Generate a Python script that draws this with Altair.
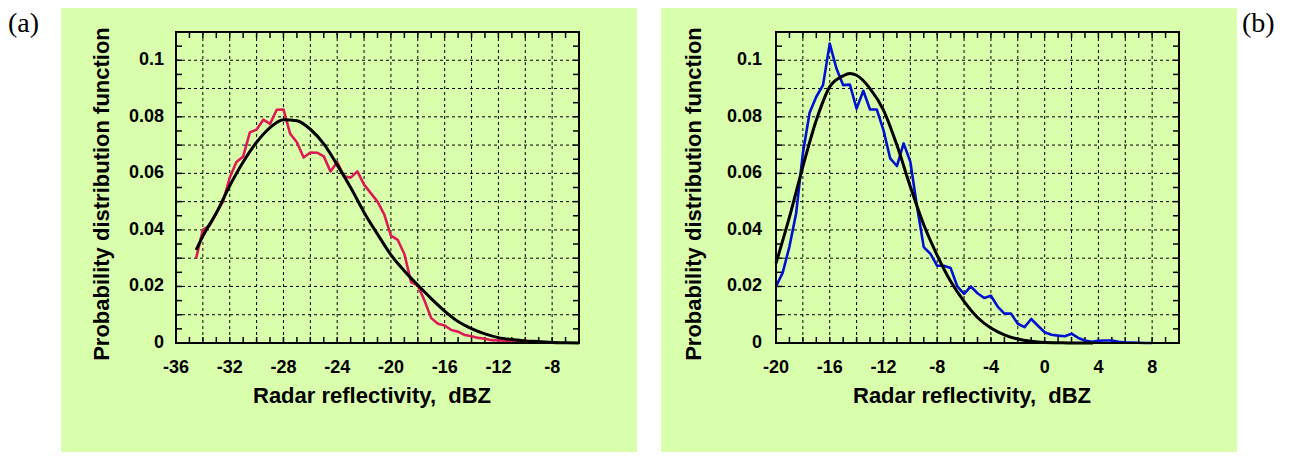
import altair as alt
import pandas as pd

# ---------------- data ----------------
# panel (a): observed PDF (red) and fitted curve (black)
a_x = [-34.5, -34.0, -33.5, -33.0, -32.5, -32.0, -31.5, -31.0, -30.5, -30.0,
       -29.5, -29.0, -28.5, -28.0, -27.5, -27.0, -26.5, -26.0, -25.5, -25.0,
       -24.5, -24.0, -23.5, -23.0, -22.5, -22.0, -21.5, -21.0, -20.5, -20.0,
       -19.5, -19.0, -18.5, -18.0, -17.5, -17.0, -16.5, -16.0, -15.5, -15.0,
       -14.5, -14.0, -13.5, -13.0, -12.5, -12.0, -11.5, -11.0, -10.5, -10.0,
       -9.5, -9.0, -8.5, -8.0, -7.5]
a_pdf = [0.0300, 0.0400, 0.0415, 0.0460, 0.0500, 0.0585, 0.0640, 0.0660, 0.0745, 0.0755,
         0.0790, 0.0775, 0.0825, 0.0826, 0.0740, 0.0710, 0.0656, 0.0674, 0.0673, 0.0660,
         0.0607, 0.0640, 0.0590, 0.0585, 0.0607, 0.0560, 0.0530, 0.0500, 0.0455, 0.0380,
         0.0365, 0.0315, 0.0215, 0.0203, 0.0150, 0.0088, 0.0068, 0.0062, 0.0046, 0.0040,
         0.0028, 0.0024, 0.0018, 0.0015, 0.0010, 0.0009, 0.0008, 0.0007, 0.0006, 0.0005,
         0.0004, 0.0003, 0.0002, 0.0001, 0.0000]
a_fit_x = [-34.5, -34, -33, -32, -31, -30, -29, -28, -27, -26, -25, -24, -23, -22,
           -21, -20, -19, -18, -17, -16, -15, -14, -13, -12, -11, -10, -9, -8, -7, -6]
a_fit = [0.0329, 0.0378, 0.0460, 0.0556, 0.0640, 0.0710, 0.0762, 0.0790, 0.0786, 0.0756,
         0.0704, 0.0630, 0.0550, 0.0462, 0.0385, 0.0312, 0.0255, 0.0205, 0.0157, 0.0113,
         0.0076, 0.0051, 0.0032, 0.0019, 0.0012, 0.0007, 0.0005, 0.0002, 0.0001, 0.0000]

# panel (b): observed PDF (blue) and fitted curve (black)
b_x = [-20.0, -19.5, -19.0, -18.5, -18.0, -17.5, -17.0, -16.5, -16.0, -15.5,
       -15.0, -14.5, -14.0, -13.5, -13.0, -12.5, -12.0, -11.5, -11.0, -10.5,
       -10.0, -9.5, -9.0, -8.5, -8.0, -7.5, -7.0, -6.5, -6.0, -5.5,
       -5.0, -4.5, -4.0, -3.5, -3.0, -2.5, -2.0, -1.5, -1.0, -0.5,
       0.0, 0.5, 1.0, 1.5, 2.0, 2.5, 3.0, 3.5, 4.0, 4.5,
       5.0, 5.5, 6.0, 6.5, 7.0, 7.5, 8.0]
b_pdf = [0.0200, 0.0249, 0.0341, 0.0459, 0.0671, 0.0814, 0.0871, 0.0912, 0.1059, 0.0971,
         0.0912, 0.0914, 0.0829, 0.0892, 0.0826, 0.0826, 0.0753, 0.0653, 0.0626, 0.0706,
         0.0641, 0.0482, 0.0339, 0.0315, 0.0273, 0.0273, 0.0265, 0.0200, 0.0174, 0.0200,
         0.0176, 0.0159, 0.0167, 0.0129, 0.0104, 0.0104, 0.0068, 0.0056, 0.0085, 0.0061,
         0.0038, 0.0029, 0.0026, 0.0024, 0.0033, 0.0018, 0.0009, 0.0004, 0.0008, 0.0009,
         0.0009, 0.0004, 0.0002, 0.0002, 0.0001, 0.0000, 0.0000]
b_fit_x = [-20, -19, -18, -17, -16, -15, -14.5, -14, -13, -12, -11, -10, -9, -8,
           -7, -6, -5, -4, -3, -2, -1, 0, 1, 2, 3.6]
b_fit = [0.0282, 0.0445, 0.0624, 0.0788, 0.0906, 0.0945, 0.0953, 0.0947, 0.0900, 0.0824,
         0.0700, 0.0553, 0.0418, 0.0310, 0.0218, 0.0147, 0.0090, 0.0053, 0.0029, 0.0014,
         0.0006, 0.0002, 0.0001, 0.0000, 0.0000]

# axis tick labels
a_xlabels = [-36, -32, -28, -24, -20, -16, -12, -8]
b_xlabels = [-20, -16, -12, -8, -4, 0, 4, 8]
y_labels = [0, 0.02, 0.04, 0.06, 0.08, 0.1]

# ---------------- styling ----------------
W, H = 403, 311
YMAX = 0.11
BG = "#d9ffad"
SANS = "Liberation Sans"
SERIF = "Liberation Serif"
XTITLE = "Radar reflectivity,\u00a0 dBZ"
YTITLE = "Probability distribution function"


def one_row(**kw):
    return alt.Data(values=[kw if kw else {"k": 0}])


def panel(obs_x, obs_y, fit_x, fit_y, color, xdom, xlabels, tag, tag_x,
          ytitle_x, ylab_pad):
    xs = alt.Scale(domain=xdom, nice=False, zero=False)
    ys = alt.Scale(domain=[0, YMAX], nice=False, zero=False)

    lo, hi = xdom
    minor_x = list(range(lo + 1, hi))
    grid_x = [v for v in range(lo + 2, hi, 2)]
    grid_y = [round(0.01 * i, 3) for i in range(1, 11)]
    minor_y = [round(0.005 * i, 4) for i in range(1, 22)]

    bg = alt.Chart(one_row()).mark_rect(color=BG).encode(
        x=alt.value(-115), x2=alt.value(461), y=alt.value(-24), y2=alt.value(420))

    tag_text = alt.Chart(one_row(t=tag)).mark_text(
        align="left", baseline="alphabetic", font=SERIF, fontSize=28, color="black"
    ).encode(x=alt.value(tag_x), y=alt.value(0), text="t:N")

    dash = dict(color="black", strokeWidth=1, strokeDash=[3, 3])
    vgrid = alt.Chart(pd.DataFrame({"v": grid_x})).mark_rule(**dash).encode(
        x=alt.X("v:Q", scale=xs, axis=None), y=alt.value(0), y2=alt.value(H))
    hgrid = alt.Chart(pd.DataFrame({"v": grid_y})).mark_rule(**dash).encode(
        y=alt.Y("v:Q", scale=ys, axis=None), x=alt.value(0), x2=alt.value(W))

    tk = dict(color="black", strokeWidth=1.5)
    tx = pd.DataFrame({"v": minor_x})
    ty = pd.DataFrame({"v": minor_y})
    t_bottom = alt.Chart(tx).mark_rule(**tk).encode(
        x=alt.X("v:Q", scale=xs, axis=None), y=alt.value(H - 6), y2=alt.value(H))
    t_top = alt.Chart(tx).mark_rule(**tk).encode(
        x=alt.X("v:Q", scale=xs, axis=None), y=alt.value(0), y2=alt.value(6))
    t_left = alt.Chart(ty).mark_rule(**tk).encode(
        y=alt.Y("v:Q", scale=ys, axis=None), x=alt.value(0), x2=alt.value(6))
    t_right = alt.Chart(ty).mark_rule(**tk).encode(
        y=alt.Y("v:Q", scale=ys, axis=None), x=alt.value(W - 6), x2=alt.value(W))

    lab = dict(font=SANS, fontSize=18, fontWeight="bold", color="black")
    xlab = alt.Chart(pd.DataFrame({"v": xlabels, "s": [str(v) for v in xlabels]})
                     ).mark_text(align="center", baseline="alphabetic", **lab).encode(
        x=alt.X("v:Q", scale=xs, axis=None), y=alt.value(H + 30), text="s:N")
    ylab = alt.Chart(pd.DataFrame({"v": y_labels, "s": [str(v) for v in y_labels]})
                     ).mark_text(align="right", baseline="middle", **lab).encode(
        y=alt.Y("v:Q", scale=ys, axis=None), x=alt.value(-ylab_pad), text="s:N")

    ttl = dict(font=SANS, fontSize=22, fontWeight="bold", color="black")
    xtitle = alt.Chart(one_row(t=XTITLE)).mark_text(
        align="center", baseline="alphabetic", **ttl).encode(
        x=alt.value(196), y=alt.value(H + 60), text="t:N")
    ytitle = alt.Chart(one_row(t=YTITLE)).mark_text(
        align="center", baseline="middle", angle=270, **ttl).encode(
        x=alt.value(ytitle_x), y=alt.value(162), text="t:N")

    obs = alt.Chart(pd.DataFrame({"x": obs_x, "y": obs_y})).mark_line(
        color=color, strokeWidth=2.6, strokeJoin="round").encode(
        x=alt.X("x:Q", scale=xs, axis=None), y=alt.Y("y:Q", scale=ys, axis=None))
    fit = alt.Chart(pd.DataFrame({"x": fit_x, "y": fit_y})).mark_line(
        color="black", strokeWidth=3, interpolate="monotone").encode(
        x=alt.X("x:Q", scale=xs, axis=None), y=alt.Y("y:Q", scale=ys, axis=None))

    frame = alt.Chart(one_row()).mark_rect(
        fillOpacity=0, stroke="black", strokeWidth=2).encode(
        x=alt.value(0), x2=alt.value(W), y=alt.value(0), y2=alt.value(H))

    return alt.layer(bg, tag_text, vgrid, hgrid, t_bottom, t_top, t_left, t_right,
                     xlab, ylab, xtitle, ytitle, obs, fit, frame
                     ).properties(width=W, height=H)


left = panel(a_x, a_pdf, a_fit_x, a_fit, "#dc1a55", [-36, -6], a_xlabels,
             "(a)", -168, -74, 12)
right = panel(b_x, b_pdf, b_fit_x, b_fit, "#0010d0", [-20, 10], b_xlabels,
              "(b)", 466, -82, 14)

chart = alt.hconcat(left, right, spacing=197, bounds="flush").properties(
    padding={"left": 0, "top": 0, "right": 0, "bottom": 0},
    background="white",
).configure_view(strokeWidth=0)

chart.save("out.html", embed_options={"renderer": "svg", "actions": False})
